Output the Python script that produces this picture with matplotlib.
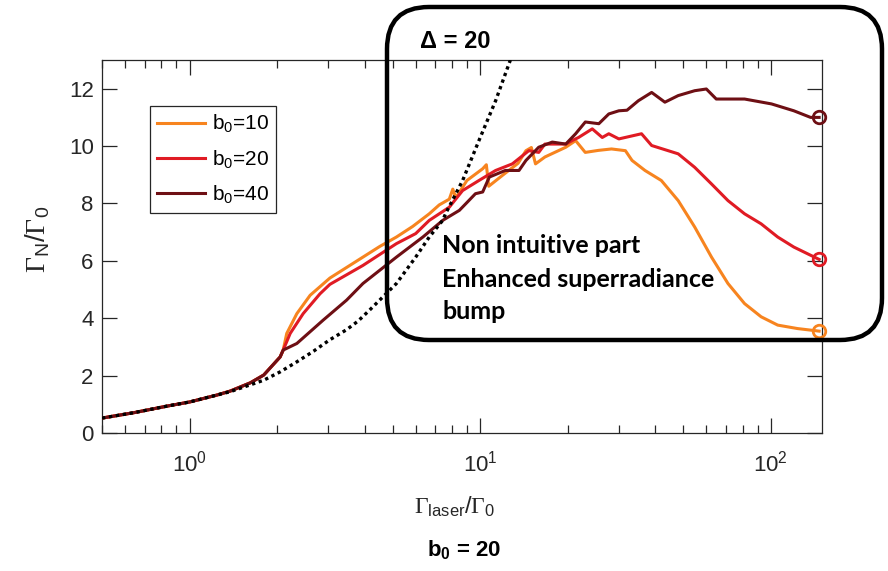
import matplotlib
matplotlib.use("Agg")
import matplotlib.pyplot as plt
from matplotlib.patches import FancyBboxPatch

plt.rcParams['font.family'] = ['Liberation Sans', 'DejaVu Sans']
plt.rcParams['mathtext.fontset'] = 'custom'
plt.rcParams['mathtext.rm'] = 'Liberation Serif'
plt.rcParams['mathtext.sf'] = 'Liberation Sans'
plt.rcParams['mathtext.default'] = 'regular'

# ---- data ----
x_b10 = [0.5, 0.645, 0.84, 1.0, 1.24, 1.38, 1.62, 1.80, 2.05, 2.10, 2.16, 2.34, 2.60, 3.04, 3.95,
         4.51, 5.15, 5.86, 6.68, 7.23, 7.83, 8.05, 8.25, 9.0, 10.2, 10.5, 10.7, 12.0, 13.5, 14.37,
         15.0, 15.5, 16.7, 19.7, 21.3, 22.99, 25.5, 28.3, 31.6, 33.3, 36.9, 42.0, 48.0, 54.7,
         62.5, 71.2, 81.2, 92.6, 105.6, 123.5, 146.6]
y_b10 = [0.52, 0.71, 0.94, 1.08, 1.32, 1.46, 1.75, 2.02, 2.65, 2.89, 3.47, 4.16, 4.80, 5.40, 6.13,
         6.50, 6.83, 7.20, 7.64, 7.95, 8.15, 8.50, 8.20, 8.80, 9.21, 9.35, 8.60, 9.00, 9.40, 9.84,
         9.95, 9.38, 9.62, 9.96, 10.19, 9.78, 9.85, 9.90, 9.84, 9.50, 9.15, 8.80, 8.10, 7.18,
         6.13, 5.21, 4.51, 4.05, 3.76, 3.64, 3.55]

x_b20 = [0.5, 0.645, 0.84, 1.0, 1.24, 1.38, 1.62, 1.80, 2.05, 2.10, 2.22, 2.46, 2.81, 3.04, 3.95,
         5.15, 6.0, 6.68, 7.83, 8.7, 9.9, 11.3, 12.9, 14.7, 15.9, 16.7, 19.7, 20.7, 21.8, 24.3,
         26.3, 27.7, 30.0, 35.9, 38.9, 48.0, 54.7, 62.5, 71.2, 81.2, 92.6, 105.6, 120.0, 146.6]
y_b20 = [0.52, 0.71, 0.94, 1.08, 1.32, 1.46, 1.75, 2.02, 2.65, 2.89, 3.47, 4.16, 4.85, 5.18, 5.84,
         6.60, 6.95, 7.41, 7.87, 8.45, 8.80, 9.15, 9.38, 9.84, 9.78, 10.07, 10.07, 10.19, 10.30, 10.60,
         10.30, 10.43, 10.25, 10.43, 10.02, 9.73, 9.26, 8.68, 8.10, 7.64, 7.29, 6.83, 6.48, 6.05]

x_b40 = [0.5, 0.645, 0.84, 1.0, 1.24, 1.38, 1.62, 1.80, 2.05, 2.10, 2.34, 2.88, 3.47, 3.95, 5.15,
         6.35, 7.43, 8.48, 8.94, 9.63, 10.2, 10.75, 12.2, 13.6, 14.37, 15.9, 17.7, 19.7, 21.3,
         23.0, 25.6, 27.7, 30.0, 32.0, 35.0, 38.9, 43.2, 48.0, 54.7, 60.0, 64.9, 81.2, 100.5,
         120.0, 137.0, 146.6]
y_b40 = [0.52, 0.71, 0.94, 1.08, 1.32, 1.46, 1.75, 2.02, 2.65, 2.89, 3.12, 3.93, 4.63, 5.21, 6.13,
         6.83, 7.41, 7.76, 8.00, 8.34, 8.40, 8.92, 9.15, 9.15, 9.50, 9.96, 10.14, 10.07, 10.43,
         10.84, 10.78, 11.12, 11.23, 11.25, 11.58, 11.87, 11.53, 11.76, 11.93, 11.99, 11.64, 11.64, 11.47,
         11.23, 11.00, 11.00]

x_theory = [0.5, 0.645, 0.84, 1.0, 1.24, 1.38, 1.62, 1.80, 2.05, 2.34, 2.67, 3.04, 3.47, 3.80,
            4.16, 5.15, 6.0, 6.68, 7.43, 7.6, 8.7, 9.9, 11.3, 12.7]
y_theory = [0.52, 0.71, 0.94, 1.08, 1.32, 1.44, 1.68, 1.84, 2.13, 2.48, 2.85, 3.25, 3.60, 3.90,
            4.28, 5.21, 6.13, 6.83, 7.41, 7.64, 8.80, 10.19, 11.58, 13.0]

labels = [r'b$_0$=10', r'b$_0$=20', r'b$_0$=40']
colors = ['#F7841F', '#E01B24', '#6E0F14']
series = [(x_b10, y_b10), (x_b20, y_b20), (x_b40, y_b40)]

yticks = [0, 2, 4, 6, 8, 10, 12]

fig = plt.figure(figsize=(8.88, 5.71), dpi=100)
ax = fig.add_axes([0.1149, 0.2417, 0.8108, 0.6532])

ax.plot(x_theory, y_theory, color='black', linestyle=(0, (1, 1.1)), lw=2.4, zorder=4)
for (xs, ys), c, lab in zip(series, colors, labels):
    ax.plot(xs, ys, color=c, lw=2.2, label=lab, zorder=3)
    ax.plot(xs[-1:], ys[-1:], marker='o', ms=9, mfc='none', mec=c, mew=2.0,
            linestyle='none', zorder=5, clip_on=False)

ax.set_xscale('log')
ax.set_xlim(0.5, 150)
ax.set_ylim(0, 13)
ax.set_yticks(yticks)
ax.tick_params(which='both', direction='in', top=True, right=True, width=0.9,
               colors='#262626', labelsize=16, labelcolor='#262626')
ax.tick_params(which='major', length=10.5)
ax.tick_params(which='minor', length=6)
ax.tick_params(axis='x', which='major', pad=13)
ax.tick_params(axis='y', which='major', pad=6)
for s in ax.spines.values():
    s.set_linewidth(0.9)
    s.set_color('#262626')

ax.set_xlabel(r'$\mathrm{\Gamma}_{laser}/\mathrm{\Gamma}_{0}$', fontsize=17, color='#262626')
ax.xaxis.set_label_coords(0.49, -0.165)
ax.set_ylabel(r'$\mathrm{\Gamma}_{N}/\mathrm{\Gamma}_{0}$', fontsize=20, color='#262626')
ax.yaxis.set_label_coords(-0.07, 0.52)

leg = ax.legend(loc='upper left', bbox_to_anchor=(0.0667, 0.877), borderaxespad=0,
                fontsize=15, handlelength=2.3, handletextpad=0.3, borderpad=0.35,
                labelspacing=0.62, fancybox=False, edgecolor='#262626', framealpha=1)
leg.get_frame().set_linewidth(0.9)

# rounded annotation box (figure inches)
box = FancyBboxPatch((3.87, 2.31), 4.95, 3.33, boxstyle='round,pad=0,rounding_size=0.42',
                     transform=fig.dpi_scale_trans, fill=False, lw=3.2, edgecolor='black',
                     zorder=10)
fig.patches.append(box)

fig.text(4.20 / 8.88, (5.71 - 0.477) / 5.71, 'Δ = 20', fontsize=17, fontweight='bold',
         va='baseline', ha='left')
note_lines = ['Non intuitive part', 'Enhanced superradiance', 'bump']
note_baselines = [2.533, 2.867, 3.19]
for line, yb in zip(note_lines, note_baselines):
    fig.text(4.42 / 8.88, (5.71 - yb) / 5.71, line, fontsize=18, fontweight='bold',
             family=['Lato', 'DejaVu Sans'], va='baseline', ha='left')
fig.text(0.523, (5.71 - 5.56) / 5.71, r'b$_0$ = 20', fontsize=16, fontweight='bold',
         va='baseline', ha='center')

fig.savefig('out.png', dpi=100)
